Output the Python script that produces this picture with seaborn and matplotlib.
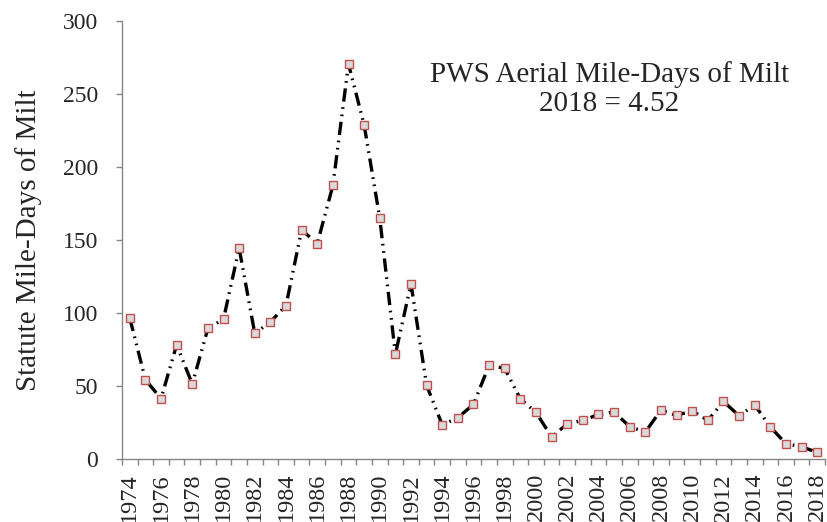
import matplotlib
matplotlib.use("Agg")
import matplotlib.pyplot as plt
import seaborn as sns
import pandas as pd
from matplotlib.ticker import FixedLocator, NullFormatter

years = list(range(1974, 2019))
milt = [96.5, 54.3, 41.3, 78.2, 51.3, 89.4, 95.8, 144.4, 86.0, 93.8,
        105.1, 156.9, 147.4, 187.3, 270.4, 228.8, 165.0, 71.7, 120.0, 50.4,
        23.3, 28.3, 37.4, 64.3, 62.0, 41.1, 31.9, 15.1, 24.0, 26.4,
        30.5, 32.2, 22.1, 18.5, 33.5, 29.8, 33.1, 26.4, 39.4, 29.6,
        37.0, 21.9, 10.5, 8.4, 4.52]
label_years = list(range(1974, 2019, 2))
title_lines = ["PWS Aerial Mile-Days of Milt", "2018 = 4.52"]
ylabel = "Statute Mile-Days of Milt"

df = pd.DataFrame({"year": years, "milt": milt})

sns.set_theme(style="white")
plt.rcParams["font.family"] = ["Liberation Serif", "DejaVu Serif"]

fig = plt.figure(figsize=(8.28, 5.22), dpi=100)
ax = fig.add_axes([0.1473, 0.1207, 0.8491, 0.8393])

sns.lineplot(data=df, x="year", y="milt", ax=ax, color="black", linewidth=2.4,
             marker="s", markersize=5.6, markerfacecolor="#d9d9d9",
             markeredgecolor="#c0504d", markeredgewidth=1.0)
ax.lines[0].set_dashes([4.0, 1.7, 0.5, 1.7, 0.5, 1.7])

ax.set_xlim(1973.5, 2018.5)
ax.set_ylim(0, 300)
ax.set_yticks([0, 50, 100, 150, 200, 250, 300])
ax.set_xticks(label_years)
ax.set_xticklabels([str(y) for y in label_years], rotation=90)
ax.xaxis.set_minor_locator(FixedLocator([y + 0.5 for y in range(1973, 2019)]))
ax.xaxis.set_minor_formatter(NullFormatter())
ax.tick_params(axis="x", which="major", length=0, labelsize=17.5, pad=10)
ax.tick_params(axis="x", which="minor", length=4.5, width=1, color="#868686",
               direction="out", bottom=True)
ax.tick_params(axis="y", which="major", length=4.5, width=1, color="#868686",
               direction="out", labelsize=17, pad=12.5, left=True)

ax.set_xlabel("")
ax.set_ylabel(ylabel, fontsize=21, labelpad=15)
for s in ["top", "right"]:
    ax.spines[s].set_visible(False)
for s in ["left", "bottom"]:
    ax.spines[s].set_color("#868686")
    ax.spines[s].set_linewidth(1)

ax.text(0.6935, 0.845, "\n".join(title_lines), transform=ax.transAxes,
        ha="center", va="center", fontsize=21, linespacing=1.15)

fig.savefig("out.png", dpi=100)
